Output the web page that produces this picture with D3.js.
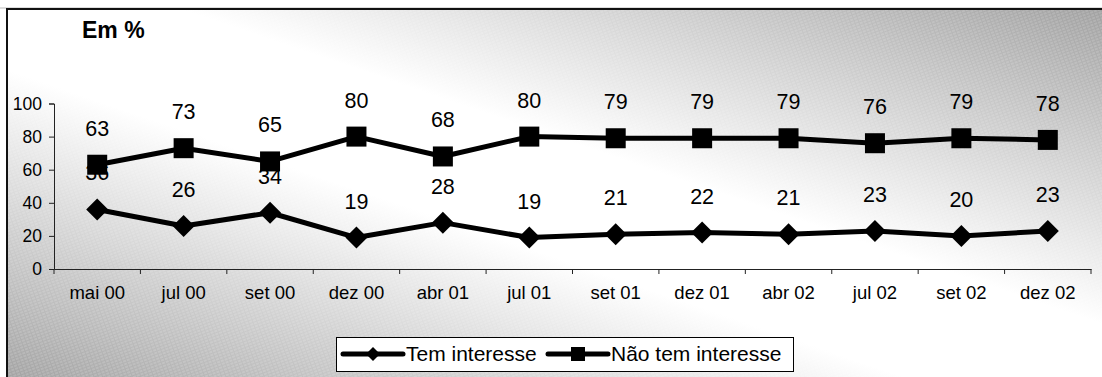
<!DOCTYPE html>
<html><head><meta charset="utf-8">
<script src="https://cdn.jsdelivr.net/npm/d3@7"></script>
<style>html,body{margin:0;padding:0;background:#fff;}svg{display:block;font-family:"Liberation Sans",Arial,sans-serif;}</style>
</head><body>
<script>
const categories = ["mai 00","jul 00","set 00","dez 00","abr 01","jul 01","set 01","dez 01","abr 02","jul 02","set 02","dez 02"];
const temInteresse = [36,26,34,19,28,19,21,22,21,23,20,23];
const naoTemInteresse = [63,73,65,80,68,80,79,79,79,76,79,78];
const yTicks = [0,20,40,60,80,100];
const seriesNames = ["Tem interesse","Não tem interesse"];
const titleText = "Em %";

const W = 1102, H = 377;
const svg = d3.select("body").append("svg").attr("width", W).attr("height", H);
const defs = svg.append("defs");
const grad = defs.append("linearGradient").attr("id","bg").attr("x1",1).attr("y1",0).attr("x2",0).attr("y2",1);
[[0,"#a0a0a0"],[0.42,"#ffffff"],[0.58,"#ffffff"],[1,"#a0a0a0"]].forEach(([o,c])=>grad.append("stop").attr("offset",o).attr("stop-color",c));
const pat = defs.append("pattern").attr("id","hatch").attr("width",4).attr("height",3)
  .attr("patternUnits","userSpaceOnUse").attr("patternTransform","rotate(-20)");
pat.append("line").attr("x1",0).attr("y1",1).attr("x2",3).attr("y2",1).attr("stroke","#ffffff").attr("stroke-opacity",0.3).attr("stroke-width",1);

// background frame
svg.append("rect").attr("x",8).attr("y",10).attr("width",W).attr("height",H).attr("fill","url(#bg)");
svg.append("rect").attr("x",8).attr("y",10).attr("width",W).attr("height",H).attr("fill","url(#hatch)");
svg.append("line").attr("x1",0).attr("x2",W).attr("y1",8).attr("y2",8).attr("stroke","#bbb").attr("stroke-width",1);
svg.append("rect").attr("x",7).attr("y",9).attr("width",W+20).attr("height",H+20).attr("fill","none").attr("stroke","#111").attr("stroke-width",2);

const font = "Liberation Sans, Arial, sans-serif";
// title
svg.append("text").attr("x",82).attr("y",38).attr("font-weight","bold").attr("font-size",23).attr("fill","#000").text(titleText);

const x = d3.scaleBand().domain(categories).range([54,1091]);
const y = d3.scaleLinear().domain([0,100]).range([269,103.5]);

// axes
const yAxis = svg.append("g").attr("transform","translate(54,0)")
  .call(d3.axisLeft(y).tickValues(yTicks).tickSize(5).tickPadding(7).tickFormat(d3.format("d")));
yAxis.selectAll("text").attr("font-size",17.5).attr("fill","#000").attr("font-family",font);
yAxis.selectAll("line,path").attr("stroke","#222");

const xAxis = svg.append("g").attr("transform","translate(0,269)")
  .call(d3.axisBottom(x).tickSize(0).tickPadding(17));
xAxis.select("path").attr("stroke","#222");
xAxis.selectAll("text").attr("font-size",18.5).attr("fill","#000").attr("font-family",font);
// boundary ticks
const bounds = categories.map(c=>x(c)).concat([x.range()[1]]);
svg.append("g").selectAll("line").data(bounds).join("line")
  .attr("x1",d=>d).attr("x2",d=>d).attr("y1",269).attr("y2",274).attr("stroke","#222");

const line = d3.line().x((d,i)=>x(categories[i])+x.bandwidth()/2).y(d=>y(d));
const series = [temInteresse, naoTemInteresse];

series.forEach((data,si)=>{
  svg.append("path").datum(data).attr("d",line).attr("fill","none").attr("stroke","#000").attr("stroke-width",5).attr("stroke-linejoin","round");
});
// markers
const diamond = s => `M0,${-s}L${s},0L0,${s}L${-s},0Z`;
svg.append("g").selectAll("path").data(temInteresse).join("path")
  .attr("transform",(d,i)=>`translate(${x(categories[i])+x.bandwidth()/2},${y(d)})`)
  .attr("d",diamond(11)).attr("fill","#000");
svg.append("g").selectAll("rect").data(naoTemInteresse).join("rect")
  .attr("x",(d,i)=>x(categories[i])+x.bandwidth()/2-10).attr("y",d=>y(d)-10)
  .attr("width",20).attr("height",20).attr("fill","#000");
// labels
series.forEach(data=>{
  svg.append("g").selectAll("text").data(data).join("text")
    .attr("x",(d,i)=>x(categories[i])+x.bandwidth()/2).attr("y",d=>y(d)-29)
    .attr("text-anchor","middle").attr("font-size",21.5).attr("fill","#000").text(d=>d);
});

// legend
const lg = svg.append("g");
lg.append("rect").attr("x",336.5).attr("y",337.5).attr("width",457).attr("height",34).attr("fill","#fff").attr("stroke","#000").attr("stroke-width",1);
const items = [{x0:343,name:seriesNames[0],m:"d"},{x0:548,name:seriesNames[1],m:"s"}];
items.forEach(it=>{
  lg.append("line").attr("x1",it.x0).attr("x2",it.x0+60).attr("y1",354).attr("y2",354).attr("stroke","#000").attr("stroke-width",5).attr("stroke-linecap","round");
  if(it.m==="d") lg.append("path").attr("transform",`translate(${it.x0+30},354)`).attr("d",diamond(7)).attr("fill","#000");
  else lg.append("rect").attr("x",it.x0+30-7).attr("y",347).attr("width",14).attr("height",14).attr("fill","#000");
  lg.append("text").attr("x",it.x0+63).attr("y",361).attr("font-size",21).attr("fill","#000").text(it.name);
});
</script>
</body></html>
